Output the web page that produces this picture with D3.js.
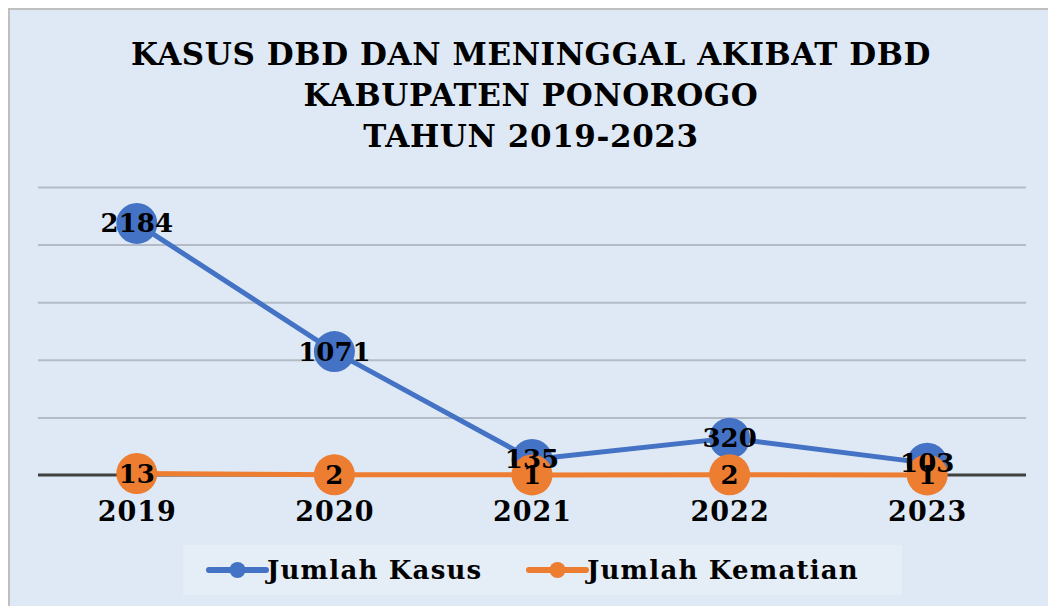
<!DOCTYPE html>
<html>
<head>
<meta charset="utf-8">
<script src="https://cdn.jsdelivr.net/npm/d3@7"></script>
<style>
  html, body { margin: 0; padding: 0; background: #ffffff; }
  svg { display: block; }
  text { font-family: "DejaVu Serif", "Liberation Serif", serif; font-weight: bold; fill: #000; }
</style>
</head>
<body>
<svg id="chart" width="1048" height="606"></svg>
<script>
const titleLines = ["KASUS DBD DAN MENINGGAL AKIBAT DBD", "KABUPATEN PONOROGO", "TAHUN 2019-2023"];
const years = ["2019", "2020", "2021", "2022", "2023"];
const kasus = [2184, 1071, 135, 320, 103];
const kematian = [13, 2, 1, 2, 1];
const seriesNames = ["Jumlah Kasus", "Jumlah Kematian"];
const yTicks = [0, 500, 1000, 1500, 2000, 2500];

const colors = ["#4472c4", "#ed7d31"];
const svg = d3.select("#chart");

// background panel
svg.append("rect").attr("x", 8).attr("y", 8).attr("width", 1040).attr("height", 598)
  .attr("fill", "#dee9f5");
svg.append("line").attr("x1", 9).attr("x2", 9).attr("y1", 8).attr("y2", 606)
  .attr("stroke", "#bfbfbf").attr("stroke-width", 2);
svg.append("line").attr("x1", 8).attr("x2", 1048).attr("y1", 9).attr("y2", 9)
  .attr("stroke", "#bfbfbf").attr("stroke-width", 2);

// title
const title = svg.append("g");
titleLines.forEach((t, i) => {
  title.append("text").attr("x", 531).attr("y", 65 + i * 41)
    .attr("text-anchor", "middle").attr("font-size", 31)
    .style("letter-spacing", "0.6px").text(t);
});

const x = d3.scalePoint().domain(years).range([38, 1026]).padding(0.5);
const y = d3.scaleLinear().domain([0, 2500]).range([475, 187]);

// gridlines
const grid = svg.append("g").attr("transform", "translate(38,0)")
  .call(d3.axisLeft(y).tickValues(yTicks.slice(1)).tickSize(-988).tickFormat(""));
grid.select(".domain").remove();
grid.selectAll(".tick line").attr("stroke", "#b3bcc6").attr("stroke-width", 2);

// x axis
const xa = svg.append("g").attr("transform", "translate(0,475)")
  .call(d3.axisBottom(x).tickSize(0).tickPadding(0));
xa.select(".domain").attr("d", "M38,0H1026").attr("stroke", "#404040").attr("stroke-width", 3);
xa.selectAll(".tick text").attr("y", 46).attr("dy", null)
  .style("font-family", "'DejaVu Serif', serif").style("font-weight", "bold")
  .style("letter-spacing", "1px")
  .attr("font-size", 27).attr("fill", "#000");

const allSeries = [kasus, kematian];
const line = d3.line().x((d, i) => x(years[i])).y(d => y(d));

allSeries.forEach((vals, s) => {
  svg.append("path").datum(vals).attr("d", line).attr("fill", "none")
    .attr("stroke", colors[s]).attr("stroke-width", 5).attr("stroke-linejoin", "round");
  svg.append("g").selectAll("circle").data(vals).join("circle")
    .attr("cx", (d, i) => x(years[i])).attr("cy", d => y(d)).attr("r", 20.5)
    .attr("fill", colors[s]);
});

allSeries.forEach((vals, s) => {
  svg.append("g").selectAll("text").data(vals).join("text")
    .attr("x", (d, i) => x(years[i])).attr("y", d => y(d) + 9)
    .attr("text-anchor", "middle").attr("font-size", 26).text(d => d);
});

// legend
const lg = svg.append("g");
lg.append("rect").attr("x", 183).attr("y", 545).attr("width", 719).attr("height", 50)
  .attr("fill", "#e5edf7");
const legendX = [209, 529];
seriesNames.forEach((n, i) => {
  const g = lg.append("g").attr("transform", `translate(${legendX[i]},570)`);
  g.append("line").attr("x1", 0).attr("x2", 57).attr("y1", 0).attr("y2", 0)
    .attr("stroke", colors[i]).attr("stroke-width", 6).attr("stroke-linecap", "round");
  g.append("circle").attr("cx", 28.5).attr("cy", 0).attr("r", 8).attr("fill", colors[i]);
  g.append("text").attr("x", 58).attr("y", 9).attr("font-size", 26)
    .style("letter-spacing", "1.2px").text(n);
});
</script>
</body>
</html>
